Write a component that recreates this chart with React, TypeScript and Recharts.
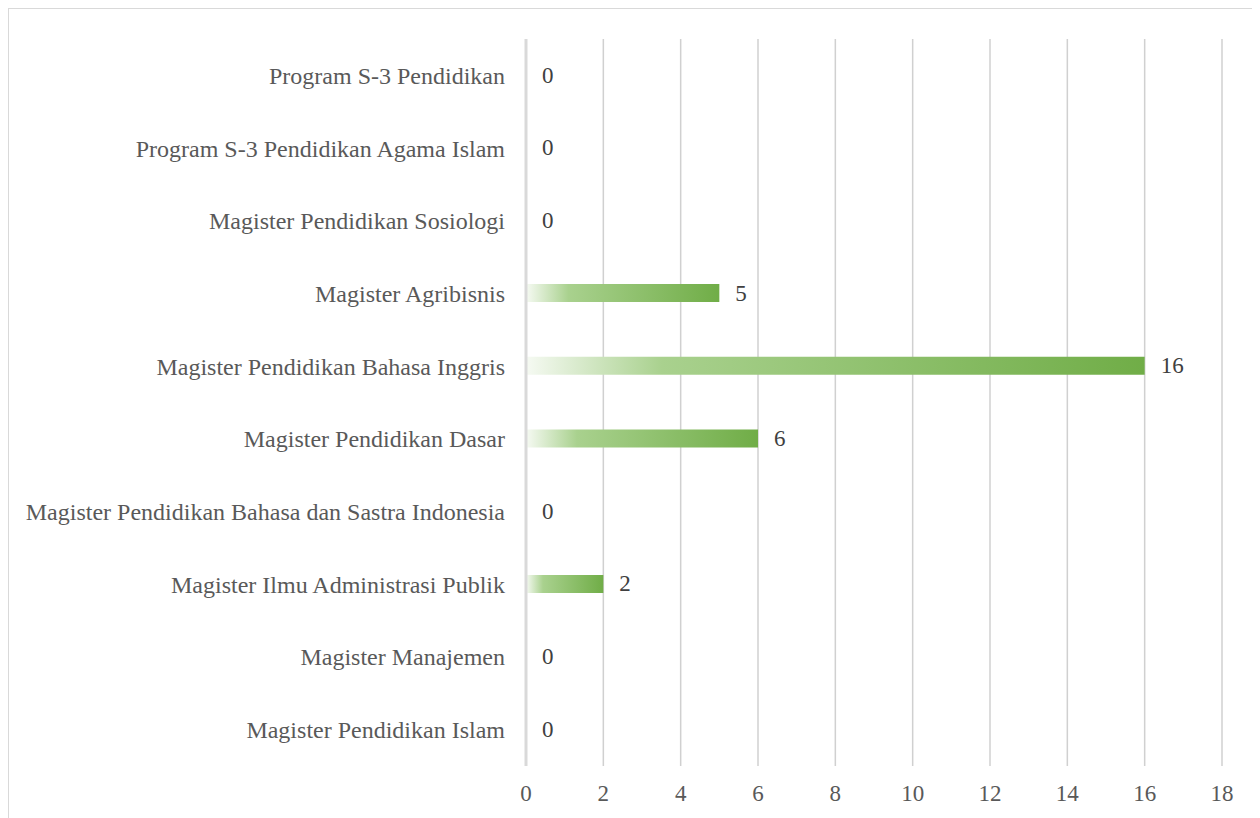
import { BarChart, Bar, XAxis, YAxis, CartesianGrid, LabelList } from "recharts";

const programs = [
  "Program S-3 Pendidikan",
  "Program S-3 Pendidikan Agama Islam",
  "Magister Pendidikan Sosiologi",
  "Magister Agribisnis",
  "Magister Pendidikan Bahasa Inggris",
  "Magister Pendidikan Dasar",
  "Magister Pendidikan Bahasa dan Sastra Indonesia",
  "Magister Ilmu Administrasi Publik",
  "Magister Manajemen",
  "Magister Pendidikan Islam",
];
const counts = [0, 0, 0, 5, 16, 6, 0, 2, 0, 0];
const xTicks = [0, 2, 4, 6, 8, 10, 12, 14, 16, 18];

const data = programs.map((name, i) => ({ name, value: counts[i] }));

const font = '"Liberation Serif", "Times New Roman", serif';

// label drawn at the bar end, also for zero-length bars
const ValueLabel = (props: any) => {
  const { x, y, width, height, value } = props;
  const v = Number(value) || 0;
  // zero bars get a 1px min size, start the label from the axis then
  const w = v === 0 ? 0 : Number(width || 0);
  return (
    <text
      x={Number(x) + w + 16}
      y={Number(y) + Number(height) / 2}
      dominantBaseline="central"
      fill="#404040"
      fontSize={23}
      fontFamily={font}
    >
      {v}
    </text>
  );
};

export default function App() {
  return (
    <div
      style={{
        width: 1248,
        height: 810,
        border: "1px solid #d9d9d9",
        background: "#fff",
        fontFamily: font,
      }}
    >
      <BarChart
        width={1248}
        height={810}
        data={data}
        layout="vertical"
        margin={{ top: 30, right: 35, left: 0, bottom: 13 }}
      >
        <defs>
          <linearGradient id="barFade" x1="0" y1="0" x2="1" y2="0">
            <stop offset="0%" stopColor="#f6faf3" />
            <stop offset="22%" stopColor="#a9d18e" />
            <stop offset="100%" stopColor="#70ad47" />
          </linearGradient>
        </defs>
        <CartesianGrid horizontal={false} stroke="#d0d0d0" strokeWidth={1.5} />
        <XAxis
          type="number"
          domain={[0, 18]}
          ticks={xTicks}
          axisLine={false}
          tickLine={false}
          tickSize={0}
          tickMargin={19}
          height={40}
          tick={{ fontSize: 23, fill: "#595959", fontFamily: font }}
        />
        <YAxis
          type="category"
          dataKey="name"
          width={517}
          axisLine={{ stroke: "#d9d9d9", strokeWidth: 3 }}
          tickLine={false}
          tickSize={0}
          tickMargin={21}
          interval={0}
          tick={{ fontSize: 24, fill: "#595959", fontFamily: font }}
        />
        <Bar
          dataKey="value"
          fill="url(#barFade)"
          barSize={18}
          minPointSize={1}
          isAnimationActive={false}
        >
          <LabelList dataKey="value" content={ValueLabel} />
        </Bar>
      </BarChart>
    </div>
  );
}
